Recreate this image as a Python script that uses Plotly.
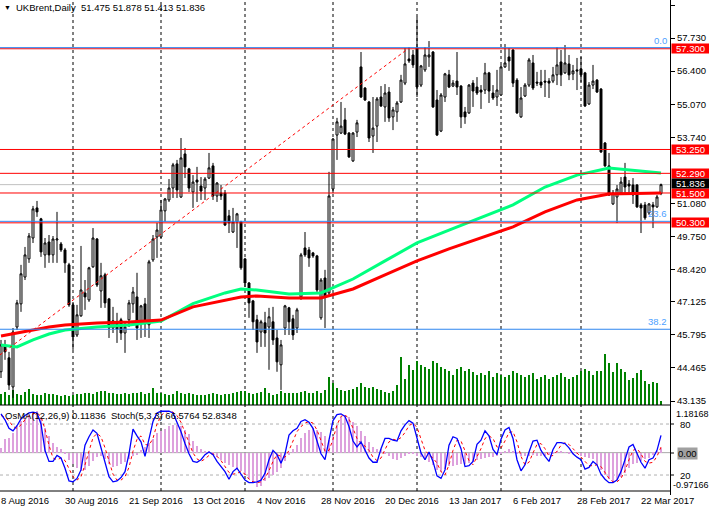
import plotly.graph_objects as go

# ------------------------------------------------------------------ data
bar_index = list(range(166))

open_ = [44.31,45.39,44.87,43.70,46.11,47.04,48.12,48.85,49.69,50.90,
         50.46,49.01,49.53,49.01,49.61,49.45,49.21,48.61,47.00,45.79,
         46.56,47.48,47.20,48.53,49.65,47.56,48.21,47.24,46.07,46.32,
         46.40,45.87,46.40,47.04,47.32,46.28,47.04,46.20,48.81,49.73,
         49.73,50.78,51.22,51.70,52.67,51.34,53.07,52.47,51.54,52.02,
         51.78,51.70,52.10,52.59,51.38,51.50,51.50,50.58,49.93,50.34,
         50.34,48.85,47.88,47.16,46.40,45.91,46.28,46.11,46.32,45.67,
         44.59,46.07,46.88,46.44,46.07,47.32,49.29,49.21,49.09,48.97,
         46.48,48.08,47.48,51.66,53.83,53.91,54.44,53.91,52.79,53.95,
         56.57,55.72,55.16,53.79,54.19,55.36,54.96,55.56,54.56,54.76,
         55.16,55.92,56.89,57.05,57.33,55.84,56.45,56.97,57.17,55.24,
         53.99,55.36,56.25,55.80,56.00,55.80,54.76,54.72,55.92,55.76,
         55.64,55.64,56.33,55.52,55.36,55.44,56.57,56.97,57.25,56.04,
         54.56,55.40,55.84,56.73,55.96,55.96,56.00,56.00,56.00,56.25,
         56.77,56.33,56.69,56.29,56.45,56.49,56.33,55.08,55.84,56.04,
         55.68,53.51,52.59,51.06,51.34,51.50,52.14,51.86,51.82,51.82,
         51.02,51.02,50.70,51.02,50.94,51.475]
high = [45.59,45.59,45.11,46.07,47.20,48.61,49.33,49.89,50.98,51.18,
        50.50,49.69,49.81,49.77,50.74,49.53,49.29,48.69,47.08,47.00,
        49.37,48.00,48.53,50.09,49.69,48.69,48.29,47.28,46.92,46.68,
        46.48,46.32,47.20,47.72,48.29,47.00,47.28,48.81,49.81,50.30,
        51.22,51.30,52.06,52.71,52.83,53.71,53.31,52.51,52.22,52.55,
        52.14,52.14,53.11,52.71,51.94,51.82,51.62,50.82,50.90,50.70,
        50.38,48.89,47.92,47.20,46.60,46.40,46.72,46.88,46.92,45.99,
        45.59,47.00,46.92,46.60,46.88,49.09,49.93,49.33,49.13,49.01,
        48.08,48.41,52.35,53.71,54.52,55.16,54.92,53.95,53.95,54.44,
        57.17,55.76,55.20,55.36,55.36,55.80,55.88,55.76,54.96,55.20,
        56.25,57.33,57.37,57.25,58.58,56.65,57.37,57.61,57.21,55.64,
        55.52,56.33,56.45,56.04,57.17,55.84,54.96,55.88,56.04,56.16,
        55.84,56.73,56.37,55.84,56.45,56.65,57.49,57.33,57.29,56.12,
        55.76,55.92,56.93,57.05,56.37,56.45,56.45,56.12,56.57,57.37,
        57.25,57.45,57.05,56.65,56.93,56.97,56.37,55.96,56.65,56.08,
        55.72,53.55,53.11,51.62,51.82,52.14,52.71,52.02,52.10,51.86,
        51.10,51.14,51.10,51.14,51.42,51.878]
low = [44.06,44.79,43.58,43.26,45.99,46.72,48.00,48.69,49.49,50.54,
       48.93,48.49,48.69,48.69,48.69,49.13,48.29,46.92,45.19,45.71,
       46.52,46.80,47.12,48.49,47.72,46.88,46.88,45.67,45.87,45.47,
       45.59,45.07,46.11,46.68,45.59,45.67,45.71,45.67,48.73,48.89,
       49.69,50.34,51.14,51.30,51.30,51.30,52.10,51.54,50.90,51.14,
       51.22,51.22,52.06,51.22,51.14,51.22,50.17,49.89,49.89,49.29,
       48.41,47.72,46.48,45.99,45.07,45.31,45.31,44.39,45.39,44.31,
       43.58,45.79,45.79,45.59,45.87,47.20,48.93,48.53,48.89,47.48,
       46.40,46.07,47.32,51.50,52.83,53.87,53.83,52.91,52.75,53.75,
       55.32,55.20,53.55,53.11,53.55,54.96,54.36,54.36,54.03,54.36,
       55.12,55.84,56.73,56.53,55.36,55.76,56.37,56.57,54.92,53.79,
       53.95,55.16,55.72,55.76,55.44,54.11,54.28,54.68,54.96,55.44,
       54.88,55.48,55.12,55.24,55.00,55.40,56.53,56.41,55.76,54.68,
       54.52,55.36,55.76,55.64,55.80,55.72,55.36,55.32,55.92,55.84,
       55.80,56.29,56.04,56.04,55.64,55.96,54.96,55.04,55.68,55.52,
       53.11,52.55,51.38,51.02,50.30,51.42,51.42,51.50,51.06,50.90,
       49.89,50.42,50.62,50.09,50.90,51.413]
close = [45.39,45.11,43.78,45.91,47.08,48.25,49.01,49.77,50.86,50.74,
         49.13,49.49,49.01,49.65,49.65,49.21,48.69,47.00,45.71,46.60,
         47.60,47.32,48.49,49.69,47.80,48.17,47.08,46.07,46.36,46.03,
         45.87,46.11,47.08,47.52,46.07,46.96,46.24,48.73,49.65,50.01,
         50.82,51.26,51.70,52.63,51.62,52.91,52.55,51.70,51.94,51.94,
         51.58,52.06,52.51,51.38,51.90,51.38,50.21,50.30,50.34,50.66,
         48.49,47.88,47.08,46.32,45.51,46.32,45.87,46.52,45.59,44.71,
         45.39,46.96,46.32,45.79,46.80,49.01,49.01,48.89,48.97,47.60,
         48.00,47.32,51.38,53.67,54.36,54.19,53.87,52.95,53.91,54.32,
         55.36,55.24,53.71,54.11,55.28,55.00,55.52,54.52,54.84,55.12,
         56.04,56.69,56.81,56.65,55.76,56.61,57.05,57.05,54.96,53.83,
         55.44,56.29,55.76,55.92,55.76,54.56,54.56,55.84,55.60,55.52,
         55.56,56.33,55.60,55.32,55.64,56.57,56.73,56.81,55.92,54.72,
         55.32,55.84,56.85,55.72,55.92,55.84,55.96,55.92,56.25,56.65,
         56.25,56.73,56.25,56.41,56.41,56.25,55.00,55.84,56.00,55.56,
         53.15,52.59,51.42,51.50,51.66,51.94,51.74,51.78,51.42,50.94,
         50.90,50.50,51.06,50.94,51.34,51.836]

# tick volume, thousands
volume_k = [11,13,10,15,11,10,13,16,11,10,
            10,12,11,11,10,9,10,9,10,11,
            11,12,12,11,13,14,14,12,12,11,
            11,12,11,12,12,13,11,12,17,12,
            12,11,10,11,14,12,11,12,11,10,
            10,10,11,12,11,10,11,11,12,13,
            14,14,12,11,12,13,17,12,10,11,
            14,12,12,12,12,13,14,12,12,14,
            12,15,28,22,17,15,14,15,16,18,
            22,18,17,18,16,15,13,12,14,20,
            48,26,40,35,44,40,38,36,44,42,
            38,36,34,30,36,38,34,36,33,30,
            32,30,34,28,32,30,28,30,34,32,
            30,28,30,32,26,28,30,26,28,30,
            32,28,26,28,30,34,36,34,30,34,
            34,51,42,33,42,36,33,25,27,32,
            35,24,21,23,22,4]

# moving averages (read at sampled bars)
ma_bars = [0,4,8,12,16,24,32,40,48,56,60,64,68,72,80,88,96,104,112,120,128,136,144,152,160,165]
ma_green = [45.39,45.31,45.59,45.83,45.99,46.11,46.19,46.35,47.05,47.48,47.64,47.60,47.52,47.44,47.48,
            48.04,48.77,49.49,50.01,50.50,51.02,51.74,52.22,52.50,52.38,52.30]
ma_red = [45.75,45.87,45.99,46.11,46.19,46.27,46.31,46.39,46.92,47.20,47.32,47.36,47.32,47.28,47.28,
          47.64,48.21,48.77,49.25,49.69,50.14,50.74,51.22,51.46,51.50,51.50]

osma = [0.12,0.35,0.37,0.51,0.67,0.79,0.88,0.96,1.02,1.06,
        0.88,0.62,0.41,0.24,0.14,0.08,-0.01,-0.18,-0.30,-0.39,
        -0.47,-0.45,-0.35,-0.22,-0.11,-0.08,-0.16,-0.29,-0.37,-0.35,
        -0.28,-0.23,-0.16,-0.09,-0.06,0.06,0.14,0.24,0.35,0.50,
        0.54,0.60,0.67,0.71,0.70,0.67,0.58,0.46,0.29,0.18,
        0.09,0.05,0.02,-0.05,-0.11,-0.18,-0.26,-0.31,-0.37,-0.41,
        -0.47,-0.57,-0.68,-0.77,-0.87,-0.84,-0.73,-0.64,-0.56,-0.48,
        -0.39,-0.22,-0.05,0.08,0.20,0.37,0.50,0.58,0.62,0.58,
        0.53,0.41,0.33,0.41,0.70,0.90,0.95,0.90,0.78,0.68,
        0.54,0.41,0.26,0.14,0.10,0.08,-0.01,-0.09,-0.15,-0.19,
        -0.14,-0.08,-0.03,-0.01,-0.08,-0.11,-0.18,-0.24,-0.32,-0.45,
        -0.50,-0.41,-0.35,-0.33,-0.31,-0.30,-0.29,-0.26,-0.23,-0.19,
        -0.16,-0.14,-0.12,-0.11,-0.08,-0.03,0.05,0.08,0.03,-0.03,
        -0.09,-0.09,-0.08,-0.07,-0.08,-0.09,-0.08,-0.05,-0.01,0.03,
        0.03,0.01,-0.01,-0.03,-0.03,-0.09,-0.11,-0.14,-0.16,-0.30,
        -0.43,-0.56,-0.67,-0.73,-0.70,-0.62,-0.51,-0.39,-0.30,-0.26,
        -0.20,-0.16,-0.14,-0.05,0.03,0.11836]

stoch_main = [92,85,75,72,78,86,90,93,94,93,
              80,49,36,36,43,40,28,13,12,16,
              26,55,65,73,69,53,34,18,12,13,
              17,24,45,74,66,59,42,63,83,93,
              95,95,95,93,83,71,57,45,36,35,
              38,44,47,44,36,30,24,15,24,28,
              21,14,11,11,12,14,22,38,49,44,
              34,45,67,72,75,83,85,82,75,61,
              45,38,63,84,91,92,89,77,60,53,
              59,49,40,35,35,51,63,63,61,60,
              72,79,84,81,63,46,38,47,36,19,
              16,26,55,65,63,51,30,31,36,56,
              61,72,66,50,44,62,73,76,63,38,
              25,32,47,60,61,49,42,36,50,58,
              58,57,52,45,41,38,27,29,36,32,
              21,15,11,11,14,24,38,53,56,45,
              35,28,38,40,49,66.5764]
stoch_signal = [90,88,84,77,75,79,85,90,92,93,
                89,74,55,40,38,40,37,27,18,14,
                18,32,49,64,69,65,52,35,21,14,
                14,18,29,48,62,66,56,55,63,80,
                90,94,95,94,90,82,70,58,46,39,
                36,39,43,45,42,37,30,23,21,22,
                24,21,15,12,11,12,16,25,36,44,
                42,41,49,61,71,77,81,83,81,73,
                60,48,49,62,79,89,91,86,75,63,
                57,54,49,41,37,40,50,59,62,61,
                64,70,78,81,76,63,49,44,40,34,
                24,20,32,49,61,60,48,37,32,41,
                51,63,66,63,53,52,60,70,71,59,
                42,32,35,46,56,57,51,42,43,48,
                55,58,56,51,46,41,35,31,31,32,
                30,23,16,12,12,16,25,38,49,51,
                45,36,34,35,42,52.8348]

date_label_bars = [0,16,32,48,64,80,96,112,128,144,160]
date_labels = ["8 Aug 2016","30 Aug 2016","21 Sep 2016","13 Oct 2016","4 Nov 2016",
               "28 Nov 2016","20 Dec 2016","13 Jan 2017","6 Feb 2017","28 Feb 2017","22 Mar 2017"]
month_start_bars = [18,40,61,83,104,125,145]

price_ticks = [59.060,57.730,56.400,55.070,53.740,51.080,49.750,48.420,47.125,45.795,44.465,43.135]
red_levels = [57.300,53.250,52.290,51.500,50.300]
bid_price = 51.836
fib_names = ["0.0","23.6","38.2"]
fib_prices = [57.345,50.36,46.02]
trend_bars = [-0.25,101.75]
trend_prices = [44.99,57.30]

# ------------------------------------------------------------------ layout helpers
PW, PH = 670, 491
def pxx(p): return p / PW
def pxy(p): return (PH - p) / PH
def bar_px(b): return 1 + 4 * b

FONT = "Liberation Sans, Arial, sans-serif"
FS = 9.5
FIB_BLUE = "#2f86f0"

fig = go.Figure()
fig.add_trace(go.Bar(x=bar_index, y=volume_k, width=0.5, marker=dict(color="#008000", line=dict(width=0)),
                     xaxis="x", yaxis="y"))
fig.add_trace(go.Scatter(x=ma_bars, y=ma_green, mode="lines", line=dict(color="#00FF7F", width=3),
                         xaxis="x", yaxis="y3"))
fig.add_trace(go.Scatter(x=ma_bars, y=ma_red, mode="lines", line=dict(color="#FF0000", width=3),
                         xaxis="x", yaxis="y3"))
fig.add_trace(go.Scatter(x=trend_bars, y=trend_prices, mode="lines",
                         line=dict(color="#FF0000", width=1, dash="3px,3px"), xaxis="x", yaxis="y3"))
fig.add_trace(go.Candlestick(x=bar_index, open=open_, high=high, low=low, close=close,
                             increasing=dict(line=dict(color="black", width=1), fillcolor="white"),
                             decreasing=dict(line=dict(color="black", width=1), fillcolor="black"),
                             whiskerwidth=0, xaxis="x", yaxis="y3"))
fig.add_trace(go.Bar(x=bar_index, y=osma, width=0.5, marker=dict(color="#DDA0DD", line=dict(width=0)),
                     xaxis="x2", yaxis="y2"))
fig.add_trace(go.Scatter(x=bar_index, y=stoch_signal, mode="lines",
                         line=dict(color="#FF0000", width=1, dash="3px,3px"), xaxis="x2", yaxis="y4"))
fig.add_trace(go.Scatter(x=bar_index, y=stoch_main, mode="lines",
                         line=dict(color="#0000FF", width=1.3), xaxis="x2", yaxis="y4"))

xr = [-0.25, 167.25]
shapes = []
for b in month_start_bars:
    shapes.append(dict(type="line", xref="x", yref="paper", x0=b, x1=b, y0=0, y1=1,
                       line=dict(color="black", width=1, dash="3px,3px"), layer="below"))
for p in red_levels:
    shapes.append(dict(type="line", xref="paper", yref="y3", x0=0, x1=1, y0=p, y1=p,
                       line=dict(color="#FF0000", width=1)))
for p in fib_prices:
    shapes.append(dict(type="line", xref="paper", yref="y3", x0=0, x1=1, y0=p, y1=p,
                       line=dict(color=FIB_BLUE, width=1)))
shapes.append(dict(type="line", xref="paper", yref="y3", x0=0, x1=1, y0=bid_price, y1=bid_price,
                   line=dict(color="#C0C0C0", width=1), layer="below"))
for lv in [80, 20]:
    shapes.append(dict(type="line", xref="paper", yref="y4", x0=0, x1=1, y0=lv, y1=lv,
                       line=dict(color="#B0B0B0", width=1, dash="3px,3px"), layer="below"))
shapes.append(dict(type="line", xref="paper", yref="y2", x0=0, x1=1, y0=0, y1=0,
                   line=dict(color="#A8A8A8", width=1), layer="below"))
shapes.append(dict(type="line", xref="paper", yref="paper", x0=0, x1=1, y0=pxy(405), y1=pxy(405),
                   line=dict(color="black", width=1)))
shapes.append(dict(type="line", xref="paper", yref="paper", x0=0, x1=1, y0=pxy(491), y1=pxy(491),
                   line=dict(color="black", width=1)))
shapes.append(dict(type="line", xref="paper", yref="paper", x0=pxx(670.5), x1=pxx(670.5), y0=pxy(0), y1=pxy(495),
                   line=dict(color="black", width=1)))
for y in [424, 453, 475]:
    shapes.append(dict(type="line", xref="paper", yref="paper", x0=pxx(670.5), x1=pxx(674), y0=pxy(y), y1=pxy(y),
                       line=dict(color="black", width=1)))

ann = []
ann.append(dict(xref="paper", yref="paper", x=pxx(2), y=pxy(7), xanchor="left", yanchor="middle",
                text="▼", showarrow=False, font=dict(family=FONT, size=7, color="black")))
ann.append(dict(xref="paper", yref="paper", x=pxx(14), y=pxy(7), xanchor="left", yanchor="middle",
                text="UKBrent,Daily\u00a0\u00a051.475 51.878 51.413 51.836", showarrow=False,
                font=dict(family=FONT, size=FS, color="black")))
ann.append(dict(xref="paper", yref="paper", x=pxx(3), y=pxy(415), xanchor="left", yanchor="middle",
                text="OsMA(12,26,9) 0.11836\u00a0\u00a0Stoch(5,3,3) 66.5764 52.8348", showarrow=False,
                font=dict(family=FONT, size=FS, color="black")))
for p in red_levels:
    ann.append(dict(xref="paper", yref="y3", x=pxx(671), y=p, xanchor="left", yanchor="middle",
                    text=f"{p:.3f}", showarrow=False, bgcolor="#FF0000", width=37, height=9, borderpad=0,
                    yshift=-0.5 if p == 51.5 else 0,
                    font=dict(family=FONT, size=FS, color="white")))
ann.append(dict(xref="paper", yref="y3", x=pxx(671), y=bid_price, xanchor="left", yanchor="middle",
                text=f"{bid_price:.3f}", showarrow=False, bgcolor="black", width=37, height=9, borderpad=0,
                yshift=1, font=dict(family=FONT, size=FS, color="white")))
for name, p in zip(fib_names, fib_prices):
    ann.append(dict(xref="paper", yref="y3", x=pxx(669), y=p, xanchor="right", yanchor="bottom",
                    text=name, showarrow=False,
                    font=dict(family=FONT, size=FS, color="#4d9fff")))
for txt, ypx, xpx, bg, fs in [("1.18168", 414, 674, None, 9), ("80", 424, 678, None, FS),
                              ("0.00", 453, 677, "#A0A0A0", FS), ("20", 475, 678, None, FS),
                              ("-0.97166", 485, 671, None, 9)]:
    d = dict(xref="paper", yref="paper", x=pxx(xpx), y=pxy(ypx), xanchor="left", yanchor="middle",
             text=txt, showarrow=False, font=dict(family=FONT, size=fs, color="black"))
    if bg:
        d.update(bgcolor=bg, borderpad=0)
    ann.append(d)
for b, t in zip(date_label_bars, date_labels):
    ann.append(dict(xref="paper", yref="paper", x=pxx(bar_px(b) - 2), y=pxy(500), xanchor="left",
                    yanchor="middle", text=t, showarrow=False, font=dict(family=FONT, size=FS, color="black")))

fig.update_layout(
    width=709, height=511, margin=dict(l=0, r=39, t=0, b=20, autoexpand=False),
    paper_bgcolor="white", plot_bgcolor="white", showlegend=False, hovermode=False,
    bargap=0, boxgap=0.3,
    xaxis=dict(range=xr, domain=[0, 1], anchor="y", showgrid=False, zeroline=False, showticklabels=False,
               ticks="", showline=False, rangeslider=dict(visible=False), fixedrange=True),
    xaxis2=dict(range=xr, domain=[0, 1], anchor="y2", matches="x", showgrid=False, zeroline=False,
                showticklabels=False, ticks="", showline=False),
    yaxis=dict(domain=[pxy(405), 1], range=[0, 405], visible=False, fixedrange=True),
    yaxis3=dict(overlaying="y", anchor="x", side="right", range=[42.974, 59.261],
                tickvals=price_ticks, ticktext=[f"{v:.3f}" for v in price_ticks],
                ticks="outside", ticklen=4, tickcolor="black", showgrid=False, zeroline=False,
                showline=False, tickfont=dict(family=FONT, size=FS, color="black")),
    yaxis2=dict(domain=[0, pxy(406)], anchor="x2", range=[-0.97166, 1.18168], visible=False),
    yaxis4=dict(overlaying="y2", anchor="x2", side="right", range=[1.2, 101.2], visible=False),
    shapes=shapes, annotations=ann,
)

fig.write_html("out.html", config={"displayModeBar": False},
               post_script="document.body.style.margin='0px';document.body.style.overflow='hidden';")
